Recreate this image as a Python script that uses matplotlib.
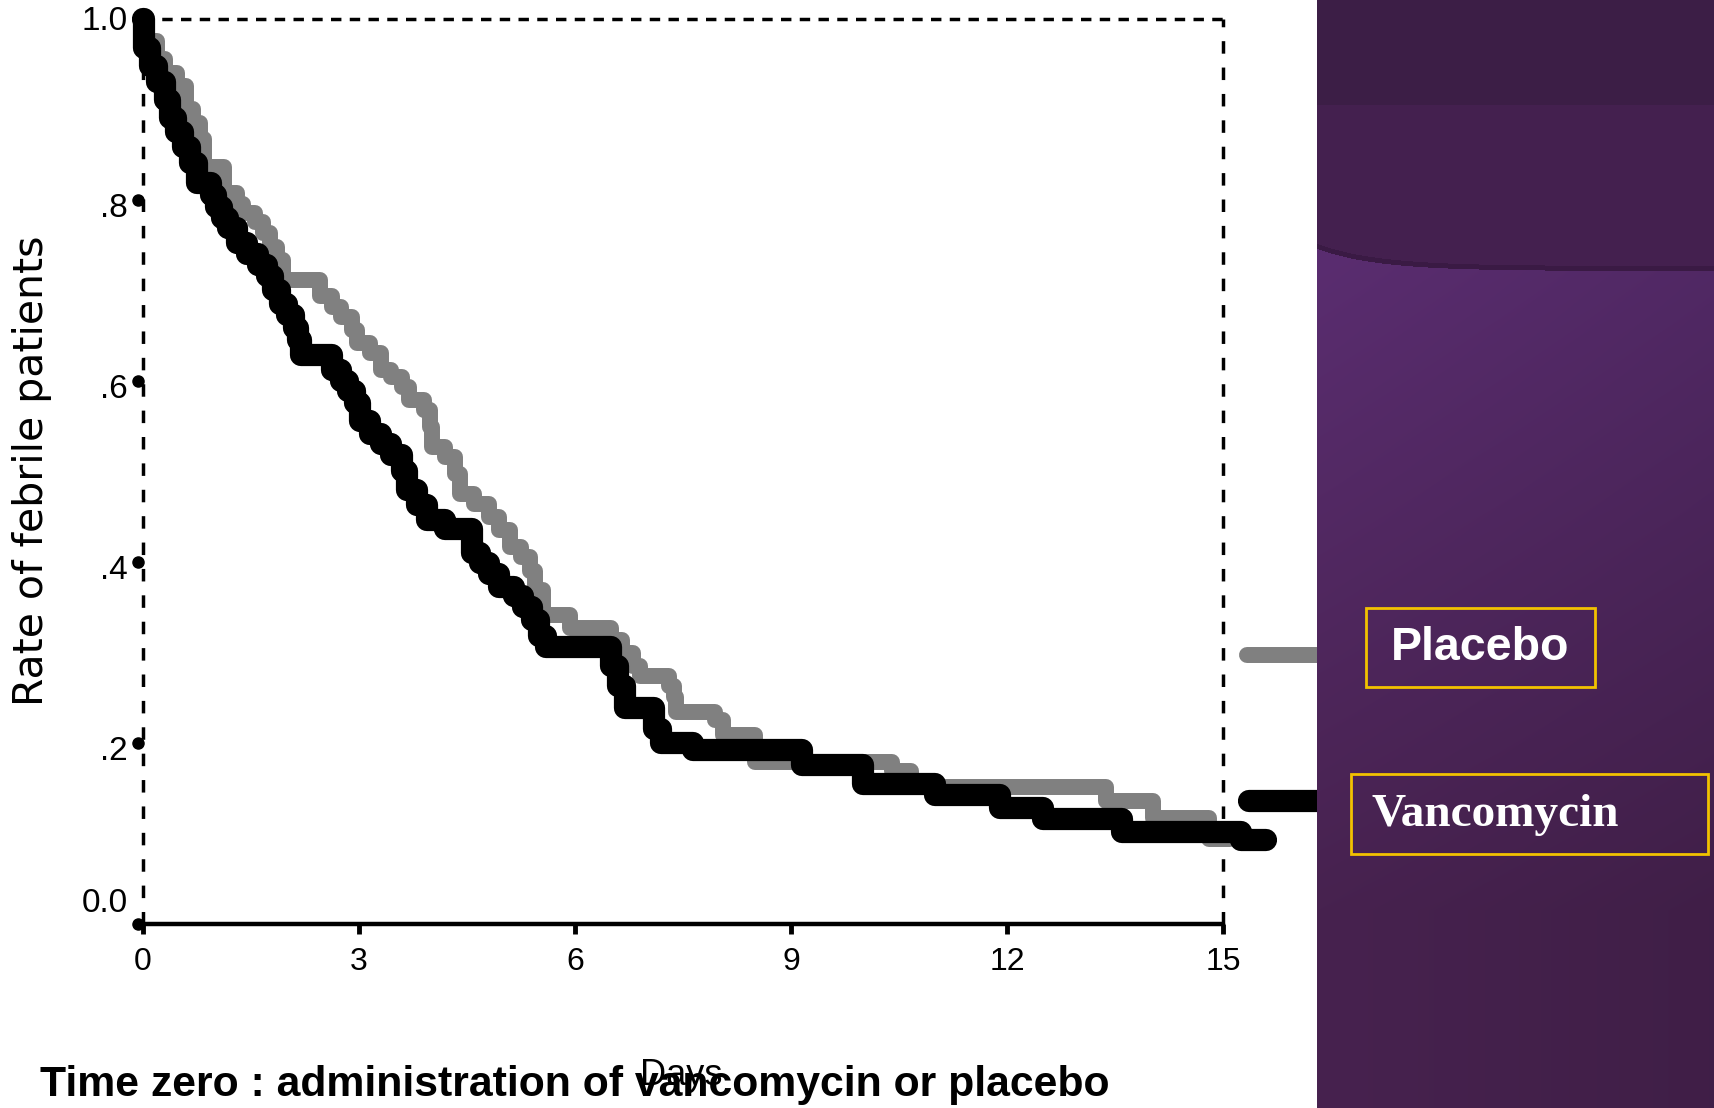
import numpy as np
import matplotlib
matplotlib.use("Agg")
from matplotlib import pyplot as plt
from matplotlib.patches import Rectangle
from matplotlib.transforms import ScaledTranslation

plt.rcParams['font.family'] = ['Liberation Sans', 'DejaVu Sans']
plt.rcParams['lines.scale_dashes'] = False

# Kaplan-Meier style step data (days, rate still febrile)
vanco_days = [0, 0.02, 0.1, 0.2, 0.3, 0.38, 0.46, 0.56, 0.65, 0.75,
              0.95, 1.02, 1.1, 1.18, 1.3, 1.45, 1.6, 1.72, 1.8, 1.9,
              2.0, 2.1, 2.15, 2.2, 2.62, 2.75, 2.85, 2.95, 3.02, 3.15,
              3.3, 3.45, 3.6, 3.66, 3.8, 3.95, 4.2, 4.57, 4.68, 4.8,
              4.95, 5.15, 5.28, 5.4, 5.5, 5.6, 6.5, 6.6, 6.7, 7.1,
              7.2, 7.64, 9.15, 10.0, 11.0, 11.9, 12.5, 13.6, 15.25, 15.6]
vanco_rate = [1.0, 0.967, 0.947, 0.93, 0.91, 0.89, 0.875, 0.858, 0.84, 0.818,
              0.805, 0.792, 0.78, 0.768, 0.752, 0.74, 0.728, 0.715, 0.70, 0.685,
              0.672, 0.658, 0.645, 0.628, 0.612, 0.60, 0.588, 0.575, 0.555, 0.541,
              0.53, 0.518, 0.50, 0.479, 0.462, 0.446, 0.436, 0.409, 0.398, 0.386,
              0.372, 0.362, 0.35, 0.335, 0.318, 0.305, 0.284, 0.262, 0.238, 0.215,
              0.199, 0.192, 0.175, 0.154, 0.142, 0.128, 0.115, 0.101, 0.092, 0.092]

placebo_days = [0, 0.03, 0.2, 0.3, 0.47, 0.6, 0.7, 0.79, 0.85, 1.13,
                1.3, 1.39, 1.55, 1.67, 1.76, 1.86, 1.95, 2.46, 2.62, 2.75,
                2.9, 2.97, 3.15, 3.3, 3.45, 3.6, 3.7, 3.9, 3.98, 4.02,
                4.2, 4.33, 4.4, 4.6, 4.8, 4.95, 5.1, 5.25, 5.38, 5.45,
                5.55, 5.93, 6.5, 6.65, 6.8, 6.9, 7.3, 7.37, 7.4, 7.95,
                8.05, 8.5, 10.4, 10.67, 13.37, 14.03, 14.8, 15.1]
placebo_rate = [1.0, 0.975, 0.955, 0.94, 0.925, 0.9, 0.885, 0.867, 0.836, 0.807,
                0.795, 0.785, 0.775, 0.763, 0.747, 0.733, 0.711, 0.693, 0.681, 0.67,
                0.656, 0.641, 0.63, 0.612, 0.604, 0.593, 0.578, 0.567, 0.549, 0.527,
                0.516, 0.497, 0.475, 0.464, 0.449, 0.435, 0.416, 0.405, 0.39, 0.368,
                0.341, 0.326, 0.313, 0.299, 0.284, 0.274, 0.262, 0.25, 0.234, 0.225,
                0.208, 0.178, 0.168, 0.151, 0.135, 0.117, 0.093, 0.093]

x_ticks = [0, 3, 6, 9, 12, 15]
y_ticks = [0.0, 0.2, 0.4, 0.6, 0.8, 1.0]
y_tick_labels = ["0.0", ".2", ".4", ".6", ".8", "1.0"]

W, H = 1714, 1108
fig = plt.figure(figsize=(W / 100, H / 100), dpi=100)
fig.patch.set_facecolor('white')

ax = fig.add_axes([143 / W, 184.5 / H, 1080 / W, 905 / H])
ax.set_xlim(0, 15)
ax.set_ylim(0, 1)
for s in ax.spines.values():
    s.set_visible(False)

# dashed frame + solid bottom axis
ax.plot([0, 15], [1, 1], color='black', lw=2.5, ls=(0, (7.5, 6)), clip_on=False, zorder=1)
ax.plot([0, 0], [0, 1], color='black', lw=2.5, ls=(0, (9, 10)), clip_on=False, zorder=1)
ax.plot([15, 15], [0, 1], color='black', lw=2.5, ls=(0, (9, 10)), clip_on=False, zorder=1)
ax.plot([0, 15], [0, 0], color='black', lw=3.2, clip_on=False, zorder=1, solid_capstyle='round')

# curves
ax.step(placebo_days, placebo_rate, where='post', color='#808080', lw=11.5,
        solid_joinstyle='round', solid_capstyle='round', clip_on=False, zorder=2)
ax.step(vanco_days, vanco_rate, where='post', color='black', lw=16,
        solid_joinstyle='round', solid_capstyle='round', clip_on=False, zorder=3)

# legend samples running into the side panel
ax.plot([15.33, 16.7], [0.297, 0.297], color='#808080', lw=11.5,
        solid_capstyle='round', clip_on=False)
ax.plot([15.36, 16.7], [0.135, 0.135], color='black', lw=16,
        solid_capstyle='round', clip_on=False)

# x ticks
ax.set_xticks(x_ticks)
ax.set_xticklabels([str(t) for t in x_ticks], fontsize=23)
ax.tick_params(axis='x', length=7, width=3.5, color='black', pad=10)

# y ticks: dots and shifted labels
ax.set_yticks([])
ax.plot([-0.07] * len(y_ticks), y_ticks, 'o', color='black', ms=8, clip_on=False)
for val, lab in zip(y_ticks, y_tick_labels):
    dy = -9 if val < 1.0 else -3.5
    if val == 0.0:
        dy = 19.5
    ax.text(0, val, lab, ha='right', va='center', fontsize=24,
            transform=ax.transData + ScaledTranslation(-15 / 100, dy / 100, fig.dpi_scale_trans))

ax.set_ylabel("Rate of febrile patients", fontsize=29.5, family='DejaVu Sans')
ax.yaxis.set_label_coords(-0.103, 0.5)
ax.yaxis.label.set_va('center')

ax.set_xlabel("Days", fontsize=26)
ax.xaxis.set_label_coords(0.498, -0.168)
ax.xaxis.label.set_va('center')

fig.text(40 / W, 1 - 1085 / H, "Time zero : administration of vancomycin or placebo",
         fontsize=30.8, fontweight='bold', ha='left', va='center')

# purple side panel
px0 = 1317
pw = W - px0
pax = fig.add_axes([px0 / W, 0, pw / W, 1], zorder=3)
pax.set_xlim(0, pw)
pax.set_ylim(H, 0)
pax.axis('off')

def hex2rgb(h):
    return np.array([int(h[i:i + 2], 16) for i in (1, 3, 5)]) / 255.0

yy, xx = np.mgrid[0:H, 0:pw]
boundary = 246 + 22 * (1 - np.exp(-xx / 60.0))
top1, top2 = hex2rgb('#3c1e46'), hex2rgb('#44204f')
low_a, low_b = hex2rgb('#5a2d70'), hex2rgb('#47224f')
frac = np.clip((yy - 260) / 650.0, 0, 1)[..., None]
lower = low_a * (1 - frac) + low_b * frac
lower = lower * (1 - 0.1 * (xx / pw))[..., None]
upper = np.where((yy < 105)[..., None], top1, top2)
img = np.where((yy < boundary)[..., None], upper, lower)
edge = np.abs(yy - boundary) < 2.5
img[edge] = hex2rgb('#3a1a44')
pax.imshow(img, extent=(0, pw, H, 0), aspect='auto', interpolation='bilinear')

gold = '#f2c200'
pax.add_patch(Rectangle((1366 - px0, 608), 229, 79, fill=False, ec=gold, lw=2))
pax.text(1480 - px0, 648, "Placebo", color='white', fontsize=33.5, fontweight='bold',
         family='Liberation Sans', ha='center', va='center')
pax.add_patch(Rectangle((1351 - px0, 774), 357, 80, fill=False, ec=gold, lw=2))
pax.text(1372 - px0, 815, "Vancomycin", color='white', fontsize=34, fontweight='bold',
         family='Liberation Serif', ha='left', va='center')

fig.savefig("out.png", dpi=100)
